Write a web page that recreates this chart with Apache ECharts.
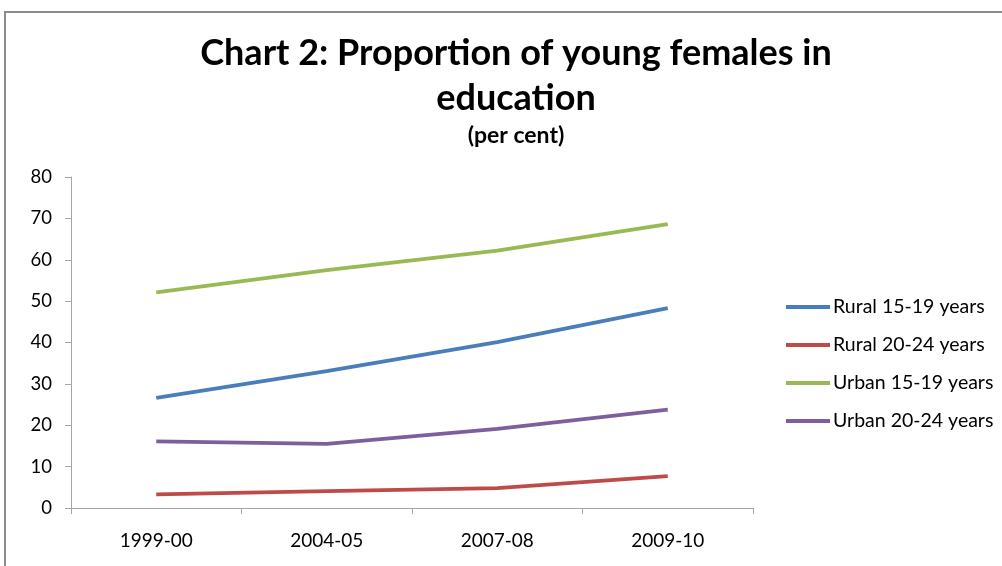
<!DOCTYPE html>
<html><head><meta charset="utf-8">
<script src="https://cdn.jsdelivr.net/npm/echarts@6/dist/echarts.min.js"></script>
<style>
html,body{margin:0;padding:0;background:#fff;overflow:hidden}
#frame{position:absolute;left:4px;top:11px;width:1100px;height:700px;border:2px solid #8c8c8c;box-sizing:border-box}
#c{position:absolute;left:0;top:0;width:1002px;height:566px}
</style></head><body>
<div id="frame"></div>
<div id="c"></div>
<script>
var categories = ['1999-00', '2004-05', '2007-08', '2009-10'];
var seriesNames = ['Rural 15-19 years', 'Rural 20-24 years', 'Urban 15-19 years', 'Urban 20-24 years'];
var rural1519 = [26.6, 33.1, 40.1, 48.3];
var rural2024 = [3.3, 4.1, 4.8, 7.7];
var urban1519 = [52.1, 57.5, 62.2, 68.6];
var urban2024 = [16.1, 15.5, 19.1, 23.8];
var colors = ['#4a7ebb', '#be4b48', '#98b954', '#7d5fa0'];
var yTicks = [0, 10, 20, 30, 40, 50, 60, 70, 80];

var chart = echarts.init(document.getElementById('c'));
var dataSets = [rural1519, rural2024, urban1519, urban2024];
var font = 'Lato, "Open Sans", sans-serif';
chart.setOption({
  animation: false,
  title: {
    text: 'Chart 2: Proportion of young females in\neducation',
    subtext: '(per cent)',
    left: 511, textAlign: 'center', top: 26,
    itemGap: 2,
    textStyle: {fontFamily: font, fontWeight: 'bold', fontSize: 36, lineHeight: 45, color: '#000'},
    subtextStyle: {fontFamily: font, fontWeight: 'bold', fontSize: 23, lineHeight: 26, color: '#000'}
  },
  legend: {
    orient: 'vertical', left: 786, top: 296, itemGap: 16, padding: 0,
    itemWidth: 44, itemHeight: 4,
    icon: 'rect',
    textStyle: {fontFamily: font, fontSize: 19.5, lineHeight: 22, color: '#000', padding: [0,0,0,-2]},
    data: seriesNames
  },
  grid: {left: 71, right: 249, top: 177, bottom: 58, containLabel: false},
  xAxis: {
    type: 'category', data: categories, boundaryGap: true,
    axisLine: {lineStyle: {color: '#a6a6a6', width: 1}},
    axisTick: {show: true, inside: false, length: 6, alignWithLabel: false, lineStyle: {color: '#a6a6a6'}},
    axisLabel: {fontFamily: font, fontSize: 19, color: '#000', margin: 23}
  },
  yAxis: {
    type: 'value', min: 0, max: 80, interval: 10,
    axisLine: {show: true, lineStyle: {color: '#a6a6a6', width: 1}},
    axisTick: {show: true, length: 6, lineStyle: {color: '#a6a6a6'}},
    splitLine: {show: false},
    axisLabel: {fontFamily: font, fontSize: 18.5, color: '#000', margin: 19,
      formatter: function(v){ return yTicks.indexOf(v) >= 0 ? String(v) : ''; }}
  },
  series: seriesNames.map(function(n, i){
    return {name: n, type: 'line', data: dataSets[i], symbol: 'none',
      lineStyle: {color: colors[i], width: 3.8}, itemStyle: {color: colors[i]}};
  })
});
</script>
</body></html>
